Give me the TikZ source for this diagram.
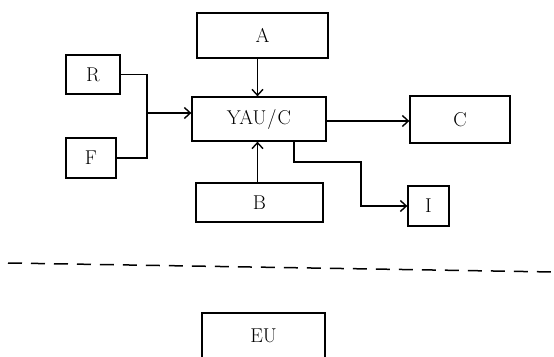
\documentclass[tikz,border=0pt]{standalone}
\usepackage{fontspec}
\usetikzlibrary{arrows.meta}
\begin{document}
\begin{tikzpicture}[x=1pt,y=-1pt,
  box/.style={draw, line width=1.3pt, inner sep=0pt, font=\fontsize{20}{22}\selectfont},
  conn/.style={line width=1.5pt},
  arr/.style={conn, -{Straight Barb[length=6pt,width=11pt,line width=1.4pt]}}]
\useasboundingbox (0,0) rectangle (554,356);
\clip (0,0) rectangle (554,356);
\node[box, minimum width=131pt, minimum height=45pt] (A) at (262.5,35.5) {A};
\node[box, minimum width=54pt, minimum height=39pt] (R) at (93,74.5) {R};
\node[box, minimum width=50pt, minimum height=40pt] (F) at (91,158) {F};
\node[box, minimum width=134pt, minimum height=44pt] (Y) at (259,119) {YAU\kern1pt/\kern1pt C};
\node[box, minimum width=127pt, minimum height=39pt] (B) at (259.5,202.5) {B};
\node[box, minimum width=100pt, minimum height=47pt] (C) at (460,119.5) {C};
\node[box, minimum width=41pt, minimum height=40pt] (I) at (428.5,206) {I};
\node[box, minimum width=123pt, minimum height=60pt, text depth=0pt] (EU) at (263.5,343) {\raisebox{14pt}{EU}};
\coordinate (j) at (147,113);
\coordinate (k) at (361,162);
\coordinate (d1) at (8,263);
\coordinate (d2) at (554,272);
\draw[conn] (R.east) -| (j) |- (F.east);
\draw[arr] (j) -- (j -| Y.west);
\draw[arr] ([xshift=-5pt]A.south) -- ([xshift=-5pt]A.south |- Y.north);
\draw[arr] ([xshift=-2pt]B.north) -- ([xshift=-2pt]B.north |- Y.south);
\draw[arr] ([yshift=-2pt]Y.east) -- ([yshift=-2pt]Y.east -| C.west);
\draw[arr] ([xshift=35pt]Y.south) |- (k) |- (I.west);
\draw[conn, dash pattern=on 14pt off 9pt] (d1) -- (d2);
\end{tikzpicture}
\end{document}
